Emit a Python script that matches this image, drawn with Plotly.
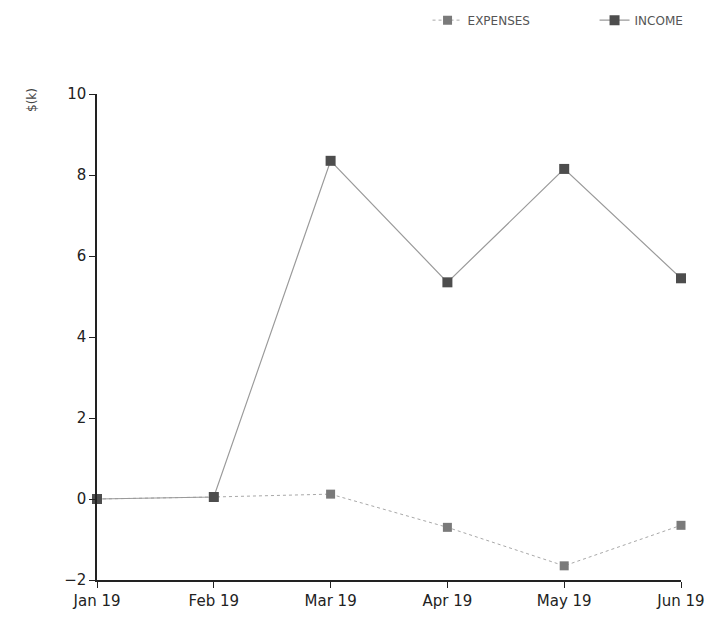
import plotly.graph_objects as go

months = ["Jan 19", "Feb 19", "Mar 19", "Apr 19", "May 19", "Jun 19"]
income = [0.0, 0.05, 8.35, 5.35, 8.15, 5.45]
expenses = [0.0, 0.05, 0.12, -0.7, -1.65, -0.65]
y_ticks = [-2, 0, 2, 4, 6, 8, 10]

font_family = "DejaVu Sans, Verdana, sans-serif"

fig = go.Figure()

fig.add_trace(go.Scatter(
    x=months, y=expenses, name="EXPENSES", mode="lines+markers",
    line=dict(color="#a8a8a8", width=1, dash="dot"),
    marker=dict(symbol="square", size=9, color="#7a7a7a"),
    cliponaxis=False,
))
fig.add_trace(go.Scatter(
    x=months, y=income, name="INCOME", mode="lines+markers",
    line=dict(color="#9a9a9a", width=1.2),
    marker=dict(symbol="square", size=10, color="#4d4d4d"),
    cliponaxis=False,
))

fig.update_layout(
    width=721, height=626,
    margin=dict(l=97, r=40, t=94, b=46, autoexpand=False),
    paper_bgcolor="white", plot_bgcolor="white",
    font=dict(family=font_family, size=15, color="#222"),
    showlegend=True,
    legend=dict(
        orientation="h", x=0.566, xanchor="left", y=1.152, yanchor="middle",
        font=dict(size=12, color="#555"), itemwidth=30,
        entrywidth=122, entrywidthmode="pixels",
        bgcolor="rgba(0,0,0,0)",
    ),
    xaxis=dict(
        type="category", range=[0, 5], showgrid=False, zeroline=False,
        showline=True, linecolor="#222", linewidth=1.5,
        ticks="outside", ticklen=6, tickcolor="#222",
        tickfont=dict(size=15, color="#222"),
    ),
    yaxis=dict(
        range=[-2, 10], tickvals=y_ticks, showgrid=False, zeroline=False,
        showline=True, linecolor="#222", linewidth=1.5,
        ticks="outside", ticklen=6, tickcolor="#222",
        tickfont=dict(size=15, color="#222"),
    ),
    annotations=[dict(
        text="$(k)", xref="paper", yref="paper", x=-0.111, y=0.988,
        showarrow=False, textangle=-90, font=dict(size=12, color="#444"),
        xanchor="center", yanchor="middle",
    )],
)

fig.write_html("out.html")
